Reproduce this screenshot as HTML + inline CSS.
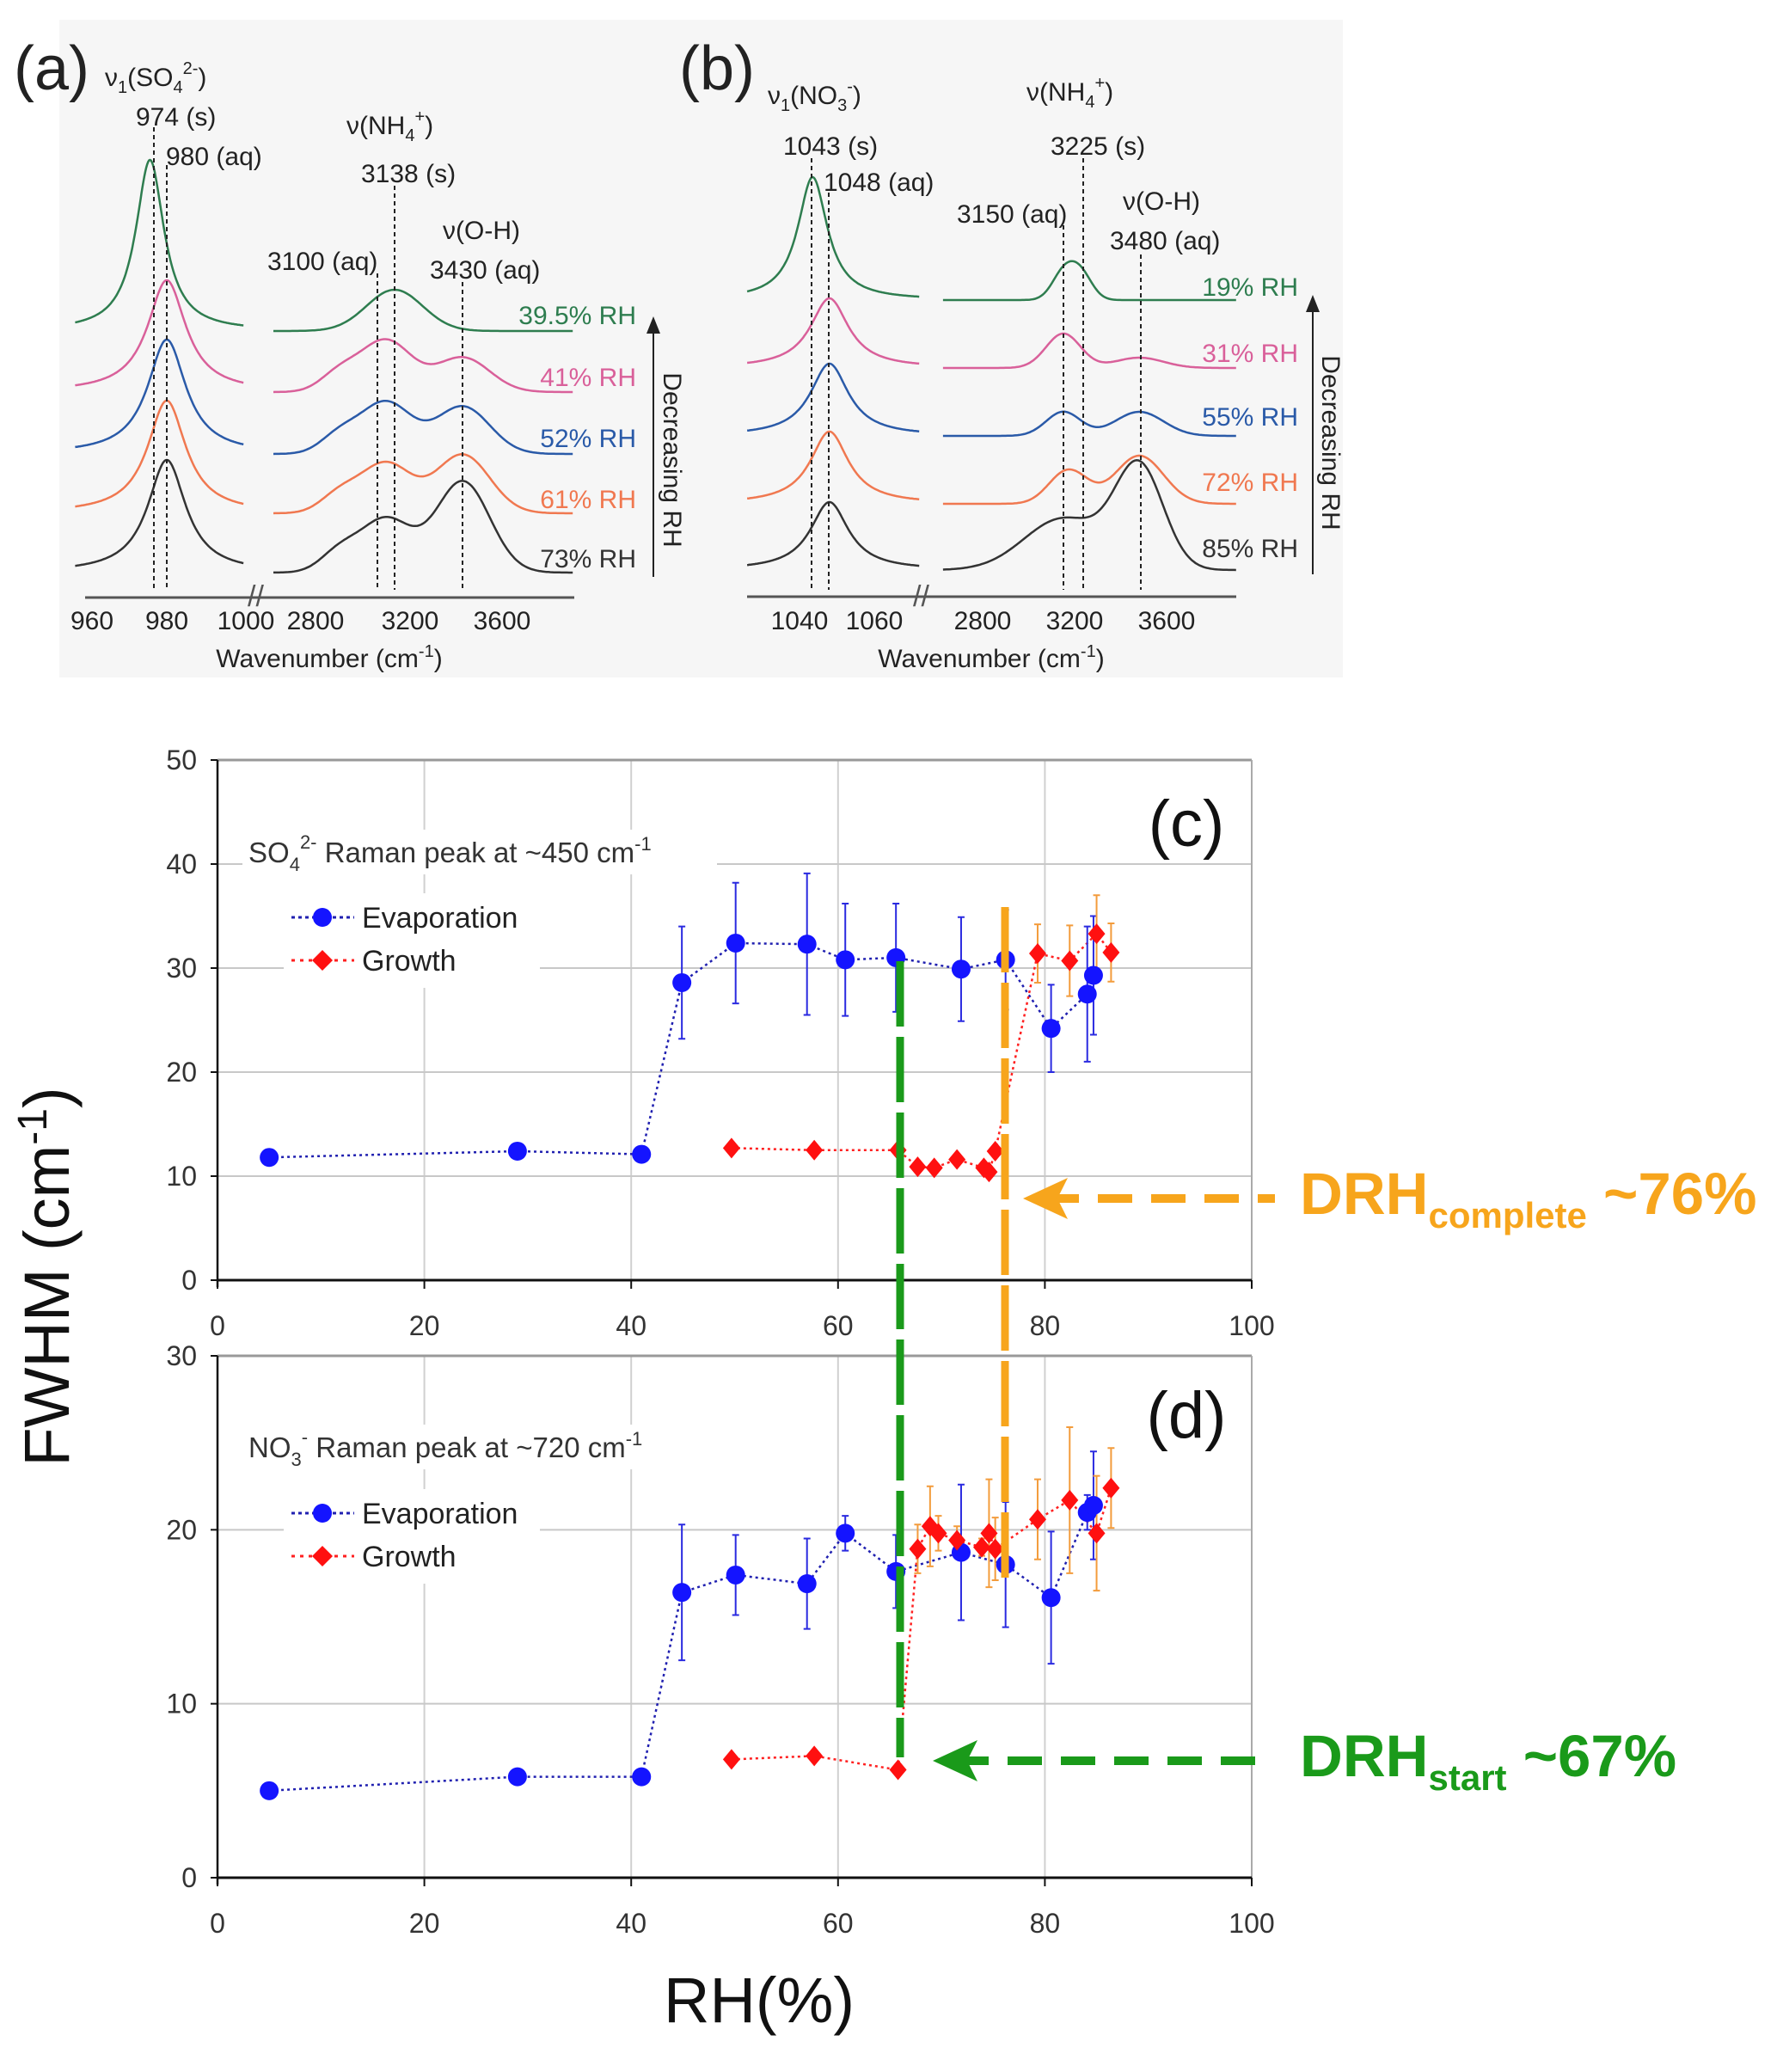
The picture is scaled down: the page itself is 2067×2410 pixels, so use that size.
<!DOCTYPE html>
<html><head><meta charset="utf-8">
<style>
html,body{margin:0;padding:0;background:#fff;}
svg{display:block;font-family:"Liberation Sans",Arial,sans-serif;}
</style></head>
<body>
<svg id="fig" width="2067" height="2410" viewBox="0 0 2067 2410" xmlns="http://www.w3.org/2000/svg">
  <rect x="0" y="0" width="2067" height="2410" fill="#fff"/>
  <rect x="69" y="23" width="1493" height="765" fill="#f6f6f6"/>

  <g fill="#222">
    <text x="16" y="104" font-size="72">(a)</text>
    <line x1="99" y1="695" x2="668" y2="695" stroke="#555" stroke-width="3"/>
    <text x="122" y="100" font-size="30">ν<tspan font-size="20" dy="8">1</tspan><tspan dy="-8">(SO</tspan><tspan font-size="20" dy="8">4</tspan><tspan font-size="20" dy="-22">2-</tspan><tspan dy="14">)</tspan></text>
    <text x="158" y="146" font-size="30">974 (s)</text>
    <text x="193" y="192" font-size="30">980 (aq)</text>
    <text x="403" y="156" font-size="30">ν(NH<tspan font-size="20" dy="8">4</tspan><tspan font-size="20" dy="-22">+</tspan><tspan dy="14">)</tspan></text>
    <text x="420" y="212" font-size="30">3138 (s)</text>
    <text x="311" y="314" font-size="30">3100 (aq)</text>
    <text x="515" y="278" font-size="30">ν(O-H)</text>
    <text x="500" y="324" font-size="30">3430 (aq)</text>
    <text x="383" y="776" font-size="30" text-anchor="middle">Wavenumber (cm<tspan font-size="20" dy="-12">-1</tspan><tspan dy="12">)</tspan></text>
    <text x="107" y="732" font-size="30" text-anchor="middle">960</text>
    <text x="194" y="732" font-size="30" text-anchor="middle">980</text>
    <text x="286" y="732" font-size="30" text-anchor="middle">1000</text>
    <text x="367" y="732" font-size="30" text-anchor="middle">2800</text>
    <text x="477" y="732" font-size="30" text-anchor="middle">3200</text>
    <text x="584" y="732" font-size="30" text-anchor="middle">3600</text>
    <text x="740" y="377" font-size="30" text-anchor="end" fill="#2e7d4f">39.5% RH</text>
    <text x="740" y="449" font-size="30" text-anchor="end" fill="#d9609a">41% RH</text>
    <text x="740" y="520" font-size="30" text-anchor="end" fill="#2a5aa8">52% RH</text>
    <text x="740" y="591" font-size="30" text-anchor="end" fill="#f07850">61% RH</text>
    <text x="740" y="660" font-size="30" text-anchor="end" fill="#333">73% RH</text>
    <line x1="760" y1="671" x2="760" y2="385" stroke="#222" stroke-width="2"/>
    <polygon points="752,388 768,388 760,368" fill="#222"/>
    <text transform="translate(772,535) rotate(90)" font-size="30" text-anchor="middle">Decreasing RH</text>
    <text x="288" y="705" font-size="34" fill="#555">//</text>
  </g>

  <g fill="#222">
    <text x="790" y="104" font-size="72">(b)</text>
    <line x1="869" y1="694" x2="1438" y2="694" stroke="#555" stroke-width="3"/>
    <text x="893" y="121" font-size="30">ν<tspan font-size="20" dy="8">1</tspan><tspan dy="-8">(NO</tspan><tspan font-size="20" dy="8">3</tspan><tspan font-size="20" dy="-22">-</tspan><tspan dy="14">)</tspan></text>
    <text x="911" y="180" font-size="30">1043 (s)</text>
    <text x="958" y="222" font-size="30">1048 (aq)</text>
    <text x="1194" y="117" font-size="30">ν(NH<tspan font-size="20" dy="8">4</tspan><tspan font-size="20" dy="-22">+</tspan><tspan dy="14">)</tspan></text>
    <text x="1222" y="180" font-size="30">3225 (s)</text>
    <text x="1113" y="259" font-size="30">3150 (aq)</text>
    <text x="1306" y="244" font-size="30">ν(O-H)</text>
    <text x="1291" y="290" font-size="30">3480 (aq)</text>
    <text x="1153" y="776" font-size="30" text-anchor="middle">Wavenumber (cm<tspan font-size="20" dy="-12">-1</tspan><tspan dy="12">)</tspan></text>
    <text x="930" y="732" font-size="30" text-anchor="middle">1040</text>
    <text x="1017" y="732" font-size="30" text-anchor="middle">1060</text>
    <text x="1143" y="732" font-size="30" text-anchor="middle">2800</text>
    <text x="1250" y="732" font-size="30" text-anchor="middle">3200</text>
    <text x="1357" y="732" font-size="30" text-anchor="middle">3600</text>
    <text x="1510" y="344" font-size="30" text-anchor="end" fill="#2e7d4f">19% RH</text>
    <text x="1510" y="421" font-size="30" text-anchor="end" fill="#d9609a">31% RH</text>
    <text x="1510" y="495" font-size="30" text-anchor="end" fill="#2a5aa8">55% RH</text>
    <text x="1510" y="571" font-size="30" text-anchor="end" fill="#f07850">72% RH</text>
    <text x="1510" y="648" font-size="30" text-anchor="end" fill="#333">85% RH</text>
    <line x1="1527" y1="668" x2="1527" y2="360" stroke="#222" stroke-width="2"/>
    <polygon points="1519,363 1535,363 1527,343" fill="#222"/>
    <text transform="translate(1538,515) rotate(90)" font-size="30" text-anchor="middle">Decreasing RH</text>
    <text x="1062" y="705" font-size="34" fill="#555">//</text>
  </g>

  <g id="spectra"></g>
  <g id="chartC"></g>
  <g id="chartD"></g>
  <g id="overlay"></g>

  <text transform="translate(80,1485) rotate(-90)" font-size="74" text-anchor="middle" fill="#111">FWHM (cm<tspan font-size="48" dy="-26">-1</tspan><tspan dy="26">)</tspan></text>
  <text x="883" y="2352" font-size="74" text-anchor="middle" fill="#111">RH(%)</text>
</svg>
<script>
// ---------- Spectra data (peak parameters) ----------
const specAColors = ["#2e7d4f","#d9609a","#2a5aa8","#f07850","#333333"];
const specABase = [385,456,528,597,666];
const specALeftH = [199,130,133,131,131];
const specALeftC = [975.5,980,980,980,980];
const specALeftW = [4.6,6.2,6.2,6.2,6.2];
const specARight3100 = [0,60,60,58,62];
const specARight3138 = [48,0,0,0,0];
const specARight3430 = [0,40,55,68,106];
const specARight2900 = [0,20,20,20,22];

const specBBase = [349,428,507,586,663];
const specBLeftH = [143,81,84,84,79];
const specBLeftC = [1043.5,1048,1048,1048,1048];
const specBLeftW = [4.8,6.2,6.2,6.2,6.2];
const specBR3150 = [30,40,28,30,60];
const specBR3225 = [30,0,0,14,0];
const specBR3480 = [0,12,28,56,118];

const NS="http://www.w3.org/2000/svg";
function mk(tag, attrs, parent){const e=document.createElementNS(NS,tag);for(const k in attrs)e.setAttribute(k,attrs[k]);parent.appendChild(e);return e;}
function lor(w,c,h,g){return h/(1+((w-c)/g)*((w-c)/g));}
function gau(w,c,h,g){return h*Math.exp(-0.5*((w-c)/g)*((w-c)/g));}
const spec=document.getElementById('spectra');

function trace(xs, yfn, color){
  let d="";
  xs.forEach((x,i)=>{d+=(i?"L":"M")+x[0].toFixed(1)+","+yfn(x[1]).toFixed(1);});
  const p=mk('path',{d:d,fill:'none',stroke:color,'stroke-width':2.5},spec);
  
  
}
for(let i=0;i<5;i++){
  const leftPts=[],rightPts=[];
  for(let w=955.5;w<=1000.5;w+=0.25) leftPts.push([107+(w-960)*4.35,w]);
  for(let w=2620;w<=3907;w+=8) rightPts.push([367+(w-2800)*0.272,w]);
  trace(leftPts,w=>specABase[i]-lor(w,specALeftC[i],specALeftH[i],specALeftW[i]),specAColors[i]);
  trace(rightPts,w=>specABase[i]-gau(w,3100,specARight3100[i],110)-gau(w,3138,specARight3138[i],120)-gau(w,3430,specARight3430[i],115)-gau(w,2900,specARight2900[i],80),specAColors[i]);
}
for(let i=0;i<5;i++){
  const leftPts=[],rightPts=[];
  for(let w=1026;w<=1072;w+=0.25) leftPts.push([930+(w-1040)*4.35,w]);
  for(let w=2628;w<=3900;w+=8) rightPts.push([1143+(w-2800)*0.268,w]);
  trace(leftPts,w=>specBBase[i]-lor(w,specBLeftC[i],specBLeftH[i],specBLeftW[i]),specAColors[i]);
  trace(rightPts,w=>specBBase[i]-gau(w,3150,specBR3150[i],(i==4?170:(i==0?50:75)))-gau(w,3225,specBR3225[i],(i==0?50:70))-gau(w,3480,specBR3480[i],105),specAColors[i]);
}
const dashLinesX=[179,194,439,459,538,944,964,1237,1260,1327];
const dashLinesTop=[148,192,318,216,328,184,224,262,184,296];
const dashLinesBot=[686,686,686,686,686,686,686,686,686,686];
dashLinesX.forEach((x,i)=>{
  const l=mk('line',{x1:x,x2:x,y1:dashLinesTop[i],y2:dashLinesBot[i],stroke:'#222','stroke-width':2,'stroke-dasharray':'5,4'},spec);
  
  
});

// ---------- FWHM chart data ----------
const evapX = [5,29,41,44.9,50.1,57,60.7,65.6,71.9,76.2,80.6,84.1,84.7];
const evapYc = [11.8,12.4,12.1,28.6,32.4,32.3,30.8,31.0,29.9,30.8,24.2,27.5,29.3];
const evapErrC = [0,0,0,5.4,5.8,6.8,5.4,5.2,5.0,4.8,4.2,6.5,5.7];
const growXc = [49.7,57.7,65.8,67.7,69.3,71.5,74.1,74.6,75.2,79.3,82.4,85.0,86.4];
const growYc = [12.7,12.5,12.5,10.9,10.8,11.6,10.8,10.4,12.4,31.4,30.7,33.3,31.5];
const growErrC = [0,0,0,0,0,0,0,0,0,2.8,3.4,3.7,2.8];
const evapYd = [5.0,5.8,5.8,16.4,17.4,16.9,19.8,17.6,18.7,18.0,16.1,21.0,21.4];
const evapErrD = [0,0,0,3.9,2.3,2.6,1.0,2.1,3.9,3.6,3.8,1.0,3.1];
const growXd = [49.7,57.7,65.8,67.7,68.9,69.7,71.5,73.9,74.6,75.2,79.3,82.4,85.0,86.4];
const growYd = [6.8,7.0,6.2,18.9,20.2,19.8,19.4,19.0,19.8,18.9,20.6,21.7,19.8,22.4];
const growErrD = [0,0,0,1.4,2.3,1.0,0.8,0.5,3.1,1.8,2.3,4.2,3.3,2.3];
const xTicks = [0,20,40,60,80,100];
const yTicksC = [0,10,20,30,40,50];
const yTicksD = [0,10,20,30];

const X0=253, X1=1456;
function xs(v){return X0+(X1-X0)*v/100;}

function drawChart(g, top, bottom, ymax, yTicks, eX, eY, eE, gX, gY, gE, tag, titleParts, titleY, legY){
  const ys=v=>bottom-(bottom-top)*v/ymax;
  [20,40,60,80].forEach(v=>{
    const l=mk('line',{x1:xs(v),x2:xs(v),y1:top,y2:bottom,stroke:'#d0d0d0','stroke-width':2},g);
    
    
  });
  yTicks.forEach(v=>{
    if(v===0) return;
    const l=mk('line',{x1:X0,x2:X1,y1:ys(v),y2:ys(v),stroke:(v===ymax?'#999':'#c8c8c8'),'stroke-width':(v===ymax?3:2)},g);
    
    
  });
  mk('line',{x1:X1,x2:X1,y1:top,y2:bottom,stroke:'#aaa','stroke-width':2},g);
  const ya=mk('line',{x1:X0,x2:X0,y1:top,y2:bottom+8,stroke:'#111','stroke-width':2.5},g);
  
  
  const xa=mk('line',{x1:X0,x2:X1,y1:bottom,y2:bottom,stroke:'#111','stroke-width':3},g);
  
  
  xTicks.forEach(v=>{
    mk('line',{x1:xs(v),x2:xs(v),y1:bottom,y2:bottom+10,stroke:'#111','stroke-width':2},g);
    const t=mk('text',{x:xs(v),y:bottom+64,'font-size':32,'text-anchor':'middle',fill:'#333'},g);
    t.textContent=v;
    
    
  });
  yTicks.forEach(v=>{
    mk('line',{x1:X0-8,x2:X0,y1:ys(v),y2:ys(v),stroke:'#111','stroke-width':2},g);
    const t=mk('text',{x:X0-24,y:ys(v)+11,'font-size':32,'text-anchor':'end',fill:'#333'},g);
    t.textContent=v;
    
    
  });
  mk('rect',{x:282,y:titleY-38,width:552,height:52,fill:'#fff'},g);
  mk('rect',{x:330,y:legY-28,width:298,height:110,fill:'#fff'},g);
  const tt=mk('text',{x:289,y:titleY,'font-size':33,fill:'#333'},g);
  tt.innerHTML=titleParts;
  
  
  function poly(X,Y,color,name){
    let d="";X.forEach((x,i)=>{d+=(i?"L":"M")+xs(x).toFixed(1)+","+ys(Y[i]).toFixed(1);});
    const p=mk('path',{d:d,fill:'none',stroke:color,'stroke-width':2.5,'stroke-dasharray':'3,4'},g);
    
    
  }
  poly(eX,eY,'#2020b0','evaporation-line');
  poly(gX,gY,'#ff2020','growth-line');
  function errs(X,Y,E,color,name){
    X.forEach((x,i)=>{
      if(!E[i]) return;
      const cx=xs(x),a=ys(Y[i]+E[i]),b=ys(Y[i]-E[i]);
      const eb=mk('path',{d:`M${cx},${a}L${cx},${b}M${cx-4},${a}L${cx+4},${a}M${cx-4},${b}L${cx+4},${b}`,stroke:color,'stroke-width':2,fill:'none'},g);
      
      
    });
  }
  errs(eX,eY,eE,'#2a2ae0','evaporation-error-bar');
  errs(gX,gY,gE,'#f39c3c','growth-error-bar');
  eX.forEach((x,i)=>{
    const c=mk('circle',{cx:xs(x),cy:ys(eY[i]),r:11,fill:'#1414ff'},g);
    
    
  });
  gX.forEach((x,i)=>{
    const cx=xs(x),cy=ys(gY[i]);
    const p=mk('polygon',{points:`${cx},${cy-12} ${cx+10},${cy} ${cx},${cy+12} ${cx-10},${cy}`,fill:'#ff1010'},g);
    
    
  });
  const le=mk('g',{},g);
  
  
  mk('line',{x1:339,x2:412,y1:legY,y2:legY,stroke:'#2020b0','stroke-width':3,'stroke-dasharray':'4,4'},le);
  mk('circle',{cx:375,cy:legY,r:11,fill:'#1414ff'},le);
  const t1=mk('text',{x:421,y:legY+12,'font-size':34,fill:'#222'},le);t1.textContent='Evaporation';
  
  
  mk('line',{x1:339,x2:412,y1:legY+50,y2:legY+50,stroke:'#ff2020','stroke-width':3,'stroke-dasharray':'4,6'},le);
  mk('polygon',{points:`375,${legY+38} 387,${legY+50} 375,${legY+62} 363,${legY+50}`,fill:'#ff1010'},le);
  const t2=mk('text',{x:421,y:legY+62,'font-size':34,fill:'#222'},le);t2.textContent='Growth';
  
  
  const tg=mk('text',{x:1380,y:top+100+(tag==='(d)'?-5:0),'font-size':76,'text-anchor':'middle',fill:'#111'},g);
  tg.textContent=tag;
  
  
}
drawChart(document.getElementById('chartC'),884,1489,50,yTicksC,evapX,evapYc,evapErrC,growXc,growYc,growErrC,'(c)',
 'SO<tspan font-size="22" dy="10">4</tspan><tspan font-size="22" dy="-26">2-</tspan><tspan dy="16"> Raman peak at ~450 cm</tspan><tspan font-size="22" dy="-14">-1</tspan>',1003,1067);
drawChart(document.getElementById('chartD'),1577,2184,30,yTicksD,evapX,evapYd,evapErrD,growXd,growYd,growErrD,'(d)',
 'NO<tspan font-size="22" dy="10">3</tspan><tspan font-size="22" dy="-26">-</tspan><tspan dy="16"> Raman peak at ~720 cm</tspan><tspan font-size="22" dy="-14">-1</tspan>',1695,1760);

const ov=document.getElementById('overlay');
const gl=mk('line',{x1:1047,x2:1047,y1:1118,y2:2044,stroke:'#1a9a1a','stroke-width':9,'stroke-dasharray':'76,12'},ov);


const ol=mk('line',{x1:1169,x2:1169,y1:1055,y2:1841,stroke:'#f7a51c','stroke-width':9,'stroke-dasharray':'76,12'},ov);


const oa=mk('line',{x1:1215,x2:1483,y1:1394,y2:1394,stroke:'#f7a51c','stroke-width':10,'stroke-dasharray':'40,22'},ov);


mk('polygon',{points:'1190,1394 1242,1370 1230,1394 1242,1418',fill:'#f7a51c'},ov);
const ga=mk('line',{x1:1110,x2:1476,y1:2048,y2:2048,stroke:'#1a9a1a','stroke-width':10,'stroke-dasharray':'40,22'},ov);


mk('polygon',{points:'1085,2048 1137,2024 1125,2048 1137,2072',fill:'#1a9a1a'},ov);
const ot=mk('text',{x:1512,y:1412,'font-size':69,'font-weight':'bold',fill:'#f7a51c'},ov);
ot.innerHTML='DRH<tspan font-size="42" dy="16">complete</tspan><tspan dy="-16"> ~76%</tspan>';


const gt=mk('text',{x:1512,y:2066,'font-size':69,'font-weight':'bold',fill:'#1a9a1a'},ov);
gt.innerHTML='DRH<tspan font-size="42" dy="16">start</tspan><tspan dy="-16"> ~67%</tspan>';


</script>
</body></html>
